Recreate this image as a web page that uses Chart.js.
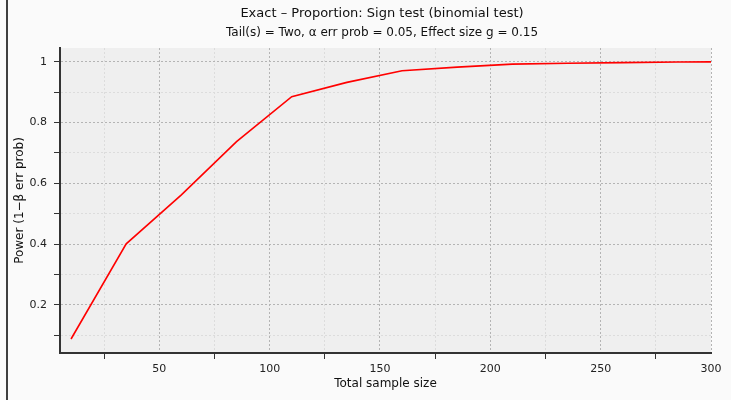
<!DOCTYPE html>
<html><head><meta charset="utf-8">
<script src="https://cdn.jsdelivr.net/npm/chart.js@4/dist/chart.umd.min.js"></script>
<style>html,body{margin:0;padding:0;background:#fafafa;}#wrap{width:731px;height:400px;position:relative;}</style>
</head><body><div id="wrap"><canvas id="c" width="731" height="400"></canvas></div>
<script>
const sampleSizes = [10, 35, 60, 85, 110, 135, 160, 185, 210, 235, 260, 285, 300];
const powerValues = [0.088, 0.401, 0.562, 0.737, 0.885, 0.932, 0.970, 0.982, 0.992, 0.995, 0.997, 0.999, 0.9995];
const xTickValues = [25, 50, 75, 100, 125, 150, 175, 200, 225, 250, 275, 300];
const xLabelValues = [50, 100, 150, 200, 250, 300];
const yTickValues = [0.1, 0.2, 0.3, 0.4, 0.5, 0.6, 0.7, 0.8, 0.9, 1.0];
const yLabelValues = [0.2, 0.4, 0.6, 0.8, 1.0];
const titleText = 'Exact – Proportion: Sign test (binomial test)';
const subtitleText = 'Tail(s) = Two, α err prob = 0.05, Effect size g = 0.15';
const xTitle = 'Total sample size';
const yTitle = 'Power (1−β err prob)';

const isLabel = (arr, v) => arr.some(a => Math.abs(a - v) < 1e-6);
const FONT = 'DejaVu Sans';

const bgPlugin = {
  id: 'bg',
  beforeDraw(chart) {
    const {ctx, chartArea: a} = chart;
    ctx.save();
    ctx.fillStyle = '#fafafa';
    ctx.fillRect(0, 0, chart.width, chart.height);
    ctx.fillStyle = '#efefef';
    ctx.fillRect(a.left, a.top, a.right - a.left, a.bottom - a.top);
    ctx.strokeStyle = '#000';
    ctx.lineWidth = 1.5;
    ctx.beginPath();
    ctx.moveTo(7, 0); ctx.lineTo(7, chart.height);
    ctx.stroke();
    ctx.restore();
  },
  afterLayout(chart) {
    chart.boxes.forEach(b => {
      if (b.options && b.options.text !== undefined && !b.axis) {
        b.left = 53; b.right = 711; b.width = 658;
      }
    });
  }
};

new Chart(document.getElementById('c'), {
  type: 'line',
  data: {
    datasets: [{
      data: sampleSizes.map((x, i) => ({x, y: powerValues[i]})),
      borderColor: '#ff0000',
      borderWidth: 1.6,
      pointRadius: 0,
      tension: 0,
      fill: false
    }]
  },
  options: {
    responsive: false,
    animation: false,
    layout: {padding: {left: 13, right: 20, top: 0, bottom: 9}},
    plugins: {
      legend: {display: false},
      tooltip: {enabled: false},
      title: {display: true, text: titleText, color: '#111',
        font: {family: FONT, size: 13, weight: 'normal'}, padding: {top: 6, bottom: 4}},
      subtitle: {display: true, text: subtitleText, color: '#111',
        font: {family: FONT, size: 12, weight: 'normal'}, padding: {top: 0, bottom: 8}}
    },
    scales: {
      x: {
        type: 'linear', min: 5, max: 300,
        afterBuildTicks(s) { s.ticks = xTickValues.map(v => ({value: v})); },
        afterFit(s) { s.height = 38; },
        ticks: {
          autoSkip: false, maxRotation: 0, padding: 4, color: '#222',
          font: {family: FONT, size: 11},
          callback: v => isLabel(xLabelValues, v) ? String(v) : ''
        },
        grid: {
          color: c => isLabel(xLabelValues, c.tick ? c.tick.value : -1) ? '#b4b4b4' : '#dcdcdc',
          lineWidth: 1,
          tickLength: 6,
          tickColor: c => isLabel(xLabelValues, c.tick ? c.tick.value : -1) ? 'rgba(0,0,0,0)' : '#333'
        },
        border: {display: true, color: '#333', width: 2, dash: [2, 2]},
        title: {display: true, text: xTitle, color: '#111', font: {family: FONT, size: 12}, padding: {top: 0, bottom: 0}}
      },
      y: {
        type: 'linear', min: 0.042, max: 1.045,
        afterBuildTicks(s) { s.ticks = yTickValues.map(v => ({value: v})); },
        afterFit(s) { s.width = 47; },
        ticks: {
          autoSkip: false, padding: 7, color: '#222',
          font: {family: FONT, size: 11},
          callback: v => isLabel(yLabelValues, v) ? (Math.abs(v - 1) < 1e-6 ? '1' : v.toFixed(1)) : ''
        },
        grid: {
          color: c => isLabel(yLabelValues, c.tick ? c.tick.value : -1) ? '#b4b4b4' : '#dcdcdc',
          lineWidth: 1,
          tickLength: 6,
          tickColor: '#333'
        },
        border: {display: true, color: '#333', width: 2, dash: [2, 2]},
        title: {display: true, text: yTitle, color: '#111', font: {family: FONT, size: 12}, padding: {top: 0, bottom: 2}}
      }
    }
  },
  plugins: [bgPlugin]
});
</script></body></html>
